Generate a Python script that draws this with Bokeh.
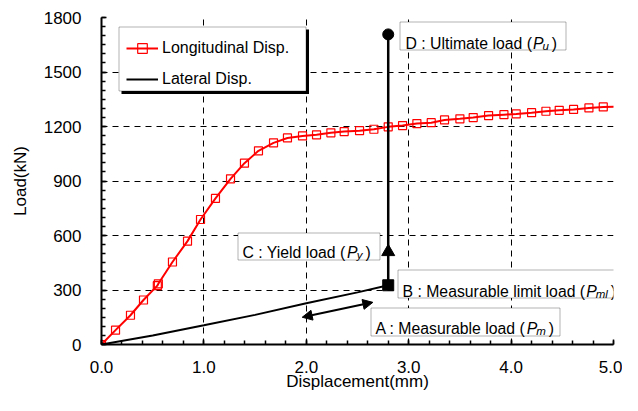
from bokeh.plotting import figure
from bokeh.models import (Range1d, FixedTicker, PrintfTickFormatter, Legend, LegendItem,
                          BoxAnnotation, Label, Arrow, NormalHead)
from bokeh.embed import file_html
from bokeh.resources import INLINE

# ---------------- data ----------------
long_x = [0.0, 0.137, 0.283, 0.41, 0.545, 0.555, 0.693, 0.84, 0.967, 1.113, 1.26, 1.396,
          1.533, 1.68, 1.816, 1.963, 2.10, 2.24, 2.37, 2.52, 2.66, 2.80, 2.94, 3.08, 3.22,
          3.35, 3.50, 3.63, 3.78, 3.93, 4.05, 4.20, 4.34, 4.47, 4.61, 4.76, 4.90, 5.09]
long_y = [0, 79, 161, 245, 324, 334, 454, 569, 688, 804, 912, 998,
          1066, 1110, 1137, 1148, 1154, 1165, 1172, 1177, 1185, 1198, 1205, 1216, 1221,
          1236, 1242, 1249, 1260, 1265, 1269, 1276, 1284, 1289, 1294, 1302, 1308, 1309]

lat_x = [0.0, 0.5, 1.0, 1.5, 2.0, 2.5, 2.8]
lat_y = [0, 50, 106, 163, 227, 287, 326]

# key loads at the measurement limit displacement
key_disp = 2.8
load_B = 326    # measurable limit load
load_C = 510    # yield load
load_D = 1707   # ultimate load

# measurable-load range arrow (two ends)
arrow_x = [1.96, 2.65]
arrow_y = [150, 232]

x_ticks = [0, 1, 2, 3, 4, 5]
y_ticks = [0, 300, 600, 900, 1200, 1500, 1800]
x_title = "Displacement(mm)"
y_title = "Load(kN)"

FONT = "Liberation Sans"

p = figure(width=622, height=395, output_backend="svg", toolbar_location=None,
           x_range=Range1d(0, 5), y_range=Range1d(0, 1800),
           min_border_left=101, min_border_right=9, min_border_top=17, min_border_bottom=51)
p.outline_line_color = None
p.background_fill_color = "white"

# axes
for ax in (p.xaxis[0], p.yaxis[0]):
    ax.axis_line_width = 2
    ax.axis_line_color = "black"
    ax.major_tick_in = 5
    ax.major_tick_out = 0
    ax.minor_tick_in = 4
    ax.minor_tick_out = 0
    ax.major_tick_line_width = 1.5
    ax.minor_tick_line_width = 1.5
    ax.major_tick_line_color = "black"
    ax.minor_tick_line_color = "black"
    ax.major_label_text_font = FONT
    ax.major_label_text_font_size = "17px"
    ax.major_label_text_color = "black"
    ax.axis_label_text_font = FONT
    ax.axis_label_text_font_size = "17px"
    ax.axis_label_text_font_style = "normal"
    ax.axis_label_text_color = "black"

p.xaxis.ticker = FixedTicker(ticks=x_ticks, minor_ticks=[i * 0.2 for i in range(26)])
p.xaxis.formatter = PrintfTickFormatter(format="%.1f")
p.xaxis.axis_label = x_title
p.xaxis.major_label_standoff = 16
p.xaxis.axis_label_standoff = -4

p.yaxis.ticker = FixedTicker(ticks=y_ticks, minor_ticks=[i * 50 for i in range(37)])
p.yaxis.axis_label = y_title
p.yaxis.major_label_standoff = 20
p.yaxis.axis_label_standoff = 11

for g in (p.xgrid[0], p.ygrid[0]):
    g.grid_line_color = "black"
    g.grid_line_dash = "6 5"
    g.grid_line_width = 1
p.xgrid.ticker = FixedTicker(ticks=x_ticks)
p.ygrid.ticker = FixedTicker(ticks=y_ticks)

# pixel -> data helpers for annotation placement (reference pixel coordinates)
def dx(px):
    return (px - 101) / 102.4

def dy(py):
    return (344 - py) * 1800 / 327.0

# series
r_long_line = p.line(long_x, long_y, line_color="red", line_width=2)
r_long_mark = p.scatter(long_x, long_y, marker="square", size=8, line_color="red",
                        line_width=1.2, fill_alpha=0)
r_lat = p.line(lat_x, lat_y, line_color="black", line_width=2)

# vertical line at key displacement from B to D
p.line([key_disp, key_disp], [load_B, load_D], line_color="black", line_width=2.5)
p.scatter([key_disp], [load_B], marker="square", size=11, color="black")
p.scatter([key_disp], [load_C], marker="triangle", size=13, color="black")
p.scatter([key_disp], [load_D], marker="circle", size=11, color="black")

# double-headed arrow
p.add_layout(Arrow(x_start=arrow_x[0], y_start=arrow_y[0], x_end=arrow_x[1], y_end=arrow_y[1],
                   line_width=2, line_color="black",
                   start=NormalHead(size=10, fill_color="black", line_color="black"),
                   end=NormalHead(size=10, fill_color="black", line_color="black")))

# legend: shadow, frame, then items
p.add_layout(BoxAnnotation(left=dx(121), right=dx(308.5), top=dy(29), bottom=dy(93.5),
                           fill_color="black", fill_alpha=1, line_color=None,
                           level="overlay"))
p.add_layout(BoxAnnotation(left=dx(118.5), right=dx(305.5), top=dy(26.5), bottom=dy(90.5),
                           fill_color="white", fill_alpha=1, line_color="black", line_width=1,
                           level="overlay"))
legend = Legend(items=[LegendItem(label="Longitudinal Disp.", renderers=[r_long_line, r_long_mark]),
                       LegendItem(label="Lateral Disp.", renderers=[r_lat])],
                location=(25, 253), padding=5, spacing=7, glyph_height=24, label_height=24,
                glyph_width=32, label_standoff=4, margin=0,
                border_line_color=None, background_fill_alpha=0,
                label_text_font=FONT, label_text_font_size="16px", label_text_color="black",
                level="overlay")
p.add_layout(legend)

# Arial advance widths (per em) for laying out the pieces of the annotation texts
W = {" ": .278, "(": .333, ")": .333, ":": .278, "A": .667, "B": .667, "C": .722, "D": .722,
     "M": .833, "U": .722, "Y": .667, "P": .667, "a": .556, "b": .556, "d": .556, "e": .556,
     "i": .222, "l": .222, "m": .833, "o": .556, "r": .333, "s": .500, "t": .278, "u": .556,
     "y": .500}

def tw(s, size):
    return sum(W.get(c, .556) for c in s) * size

MAIN = 15.8
SUB = 11.5
boxes = [
    # (box l, t, r, b), main text, text x, baseline, subscript
    ((399.5, 21.5, 565.5, 49.5), "D : Ultimate load (", 405, 42.5, "u"),
    ((237.5, 232.5, 379.5, 259.5), "C : Yield load (", 242, 251.5, "y"),
    ((397.5, 269.5, 627.5, 297.5), "B : Measurable limit load (", 402, 290.5, "ml"),
    ((370.5, 307.5, 559.5, 335.5), "A : Measurable load (", 375, 327.5, "m"),
]
for (l, t, r, b), main, tx, base, sub in boxes:
    p.add_layout(BoxAnnotation(left=dx(l), right=dx(r), top=dy(t), bottom=dy(b),
                               fill_color="white", fill_alpha=1, line_color="black",
                               line_width=1, level="overlay"))
    px = tx + tw(main, MAIN) + 1
    sx = px + tw("P", MAIN) - 1
    cx = sx + tw(sub, SUB) + 3
    p.add_layout(Label(x=dx(tx), y=dy(base), text=main, text_font=FONT, text_font_size=f"{MAIN}px",
                       text_baseline="alphabetic", text_align="left", text_color="black",
                       level="overlay"))
    p.add_layout(Label(x=dx(px), y=dy(base), text="P", text_font=FONT, text_font_size=f"{MAIN}px",
                       text_font_style="italic", text_baseline="alphabetic", text_align="left",
                       text_color="black", level="overlay"))
    p.add_layout(Label(x=dx(sx), y=dy(base + 3), text=sub, text_font=FONT, text_font_size=f"{SUB}px",
                       text_font_style="italic", text_baseline="alphabetic", text_align="left",
                       text_color="black", level="overlay"))
    p.add_layout(Label(x=dx(cx), y=dy(base), text=")", text_font=FONT, text_font_size=f"{MAIN}px",
                       text_baseline="alphabetic", text_align="left", text_color="black",
                       level="overlay"))

open("out.html", "w").write(file_html(p, INLINE))
